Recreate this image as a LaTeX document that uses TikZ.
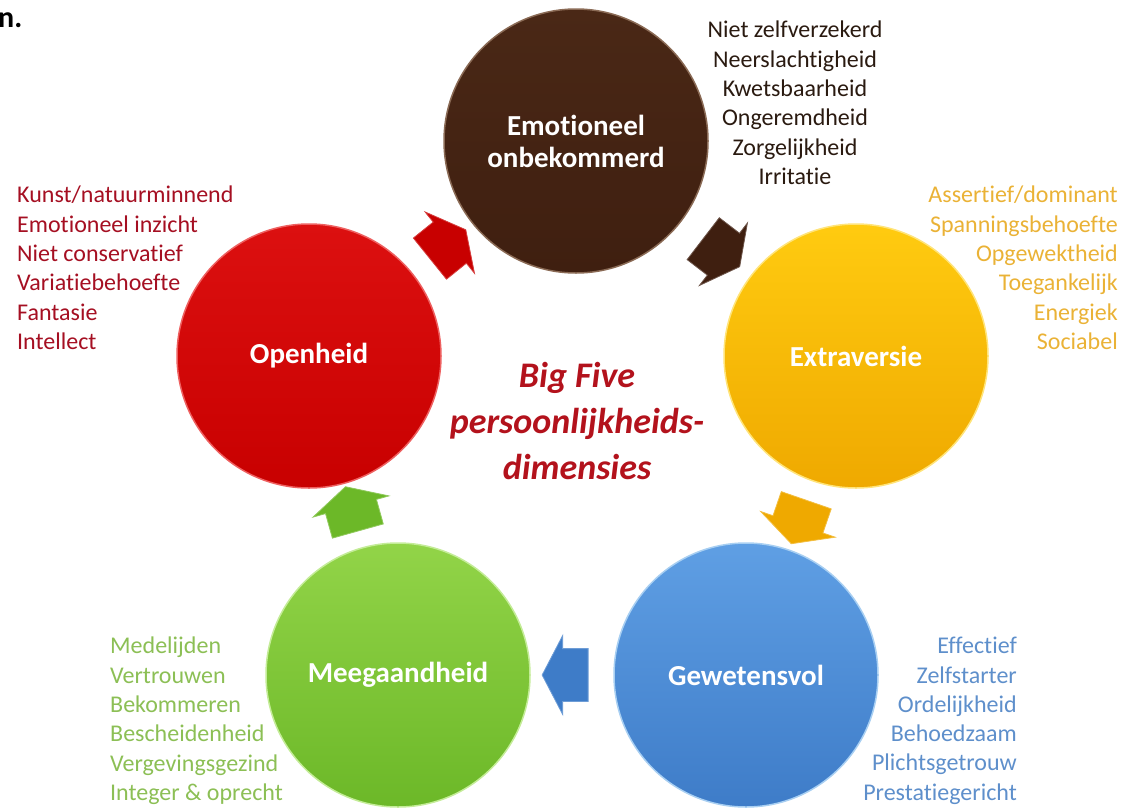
\documentclass[tikz,border=0pt]{standalone}
\usepackage{fontspec}
\setmainfont[Ligatures=NoCommon]{Carlito}
\usetikzlibrary{positioning}
\usetikzlibrary{calc}
\usetikzlibrary{shapes.arrows}

\definecolor{emobrown}{HTML}{3F1F10}
\definecolor{emotop}{HTML}{4A2816}
\definecolor{emorim}{HTML}{8A6A55}
\definecolor{emotext}{HTML}{2A1A10}
\definecolor{openred}{HTML}{C80000}
\definecolor{opentop}{HTML}{DC1010}
\definecolor{openrim}{HTML}{EE6060}
\definecolor{opentext}{HTML}{A50F22}
\definecolor{extrayellow}{HTML}{EFA900}
\definecolor{extratop}{HTML}{FFCB10}
\definecolor{extrarim}{HTML}{FFE47A}
\definecolor{extratext}{HTML}{EAB236}
\definecolor{gewetblue}{HTML}{3E7CC8}
\definecolor{gewettop}{HTML}{5F9FE4}
\definecolor{gewetrim}{HTML}{A8CFF2}
\definecolor{gewettext}{HTML}{5E8FCB}
\definecolor{meegreen}{HTML}{6CB828}
\definecolor{meetop}{HTML}{92D448}
\definecolor{meerim}{HTML}{C4EC98}
\definecolor{meetext}{HTML}{8CBF55}
\definecolor{titlered}{HTML}{B3121C}

\tikzset{
  dimension/.style={circle, minimum size=264pt, inner sep=0pt, line width=1.5pt,
    font=\bfseries\fontsize{29}{32}\selectfont, text=white, align=center},
  traits/.style={inner sep=0pt, font=\fontsize{24}{29.3}\selectfont},
  cyclearrow/.style={single arrow, single arrow head extend=13pt, single arrow tip angle=125,
    minimum height=46pt, inner xsep=0pt, inner ysep=26pt, sloped, allow upside down}
}

\begin{document}
\begin{tikzpicture}[x=1pt,y=-1pt]
	\useasboundingbox (0,0) rectangle (1130,809);
	% Define the coordinates of the circle centres
	\coordinate (e) at (576,141);
	\coordinate (o) at (309,356);
	\coordinate (x) at (856,356);
	\coordinate (g) at (746,675);
	\coordinate (m) at (398,675);

	% Draw the five dimensions
	\node[dimension, top color=emotop, bottom color=emobrown, draw=emorim] (emo) at (e) {Emotioneel\\onbekommerd};
	\node[dimension, top color=opentop, bottom color=openred, draw=openrim] (open) at (o) {Openheid};
	\node[dimension, top color=extratop, bottom color=extrayellow, draw=extrarim] (extra) at (x) {Extraversie};
	\node[dimension, top color=gewettop, bottom color=gewetblue, draw=gewetrim] (gewet) at (g) {Gewetensvol};
	\node[dimension, top color=meetop, bottom color=meegreen, draw=meerim] (mee) at (m) {Meegaandheid};

	% Draw the arrows
	\foreach \from/\to/\col in {open/emo/openred, emo/extra/emobrown, extra/gewet/extrayellow, gewet/mee/gewetblue, mee/open/meegreen}
	\path (\from) -- node[cyclearrow, fill=\col, draw=\col!75!white, line width=0.8pt] {} (\to);

	% Traits of each dimension
	\node[traits, text=emotext, align=center, anchor=north] (emotraits) at (795,21)
	  {Niet zelfverzekerd\\Neerslachtigheid\\Kwetsbaarheid\\Ongeremdheid\\Zorgelijkheid\\Irritatie};
	\node[traits, text=opentext, align=left, anchor=north west] (opentraits) at (17,186)
	  {Kunst/natuurminnend\\Emotioneel inzicht\\Niet conservatief\\Variatiebehoefte\\Fantasie\\Intellect};
	\node[traits, text=extratext, align=right, anchor=north east] (extratraits) at (1118,186)
	  {Assertief/dominant\\Spanningsbehoefte\\Opgewektheid\\Toegankelijk\\Energiek\\Sociabel};
	\node[traits, text=gewettext, align=right, anchor=north east] (gewettraits) at (1017,637)
	  {Effectief\\Zelfstarter\\Ordelijkheid\\Behoedzaam\\Plichtsgetrouw\\Prestatiegericht};
	\node[traits, text=meetext, align=left, anchor=north west] (meetraits) at (110,637)
	  {Medelijden\\Vertrouwen\\Bekommeren\\Bescheidenheid\\Vergevingsgezind\\Integer \& oprecht};

	\node[font=\bfseries\itshape\fontsize{36}{46}\selectfont, text=titlered, align=center] (title) at (577,421)
	  {Big Five\\persoonlijkheids-\\dimensies};
	\node[font=\bfseries\fontsize{30}{30}\selectfont, anchor=west, inner sep=0pt] (cut) at (-2,20) {n.};
\end{tikzpicture}
\end{document}
